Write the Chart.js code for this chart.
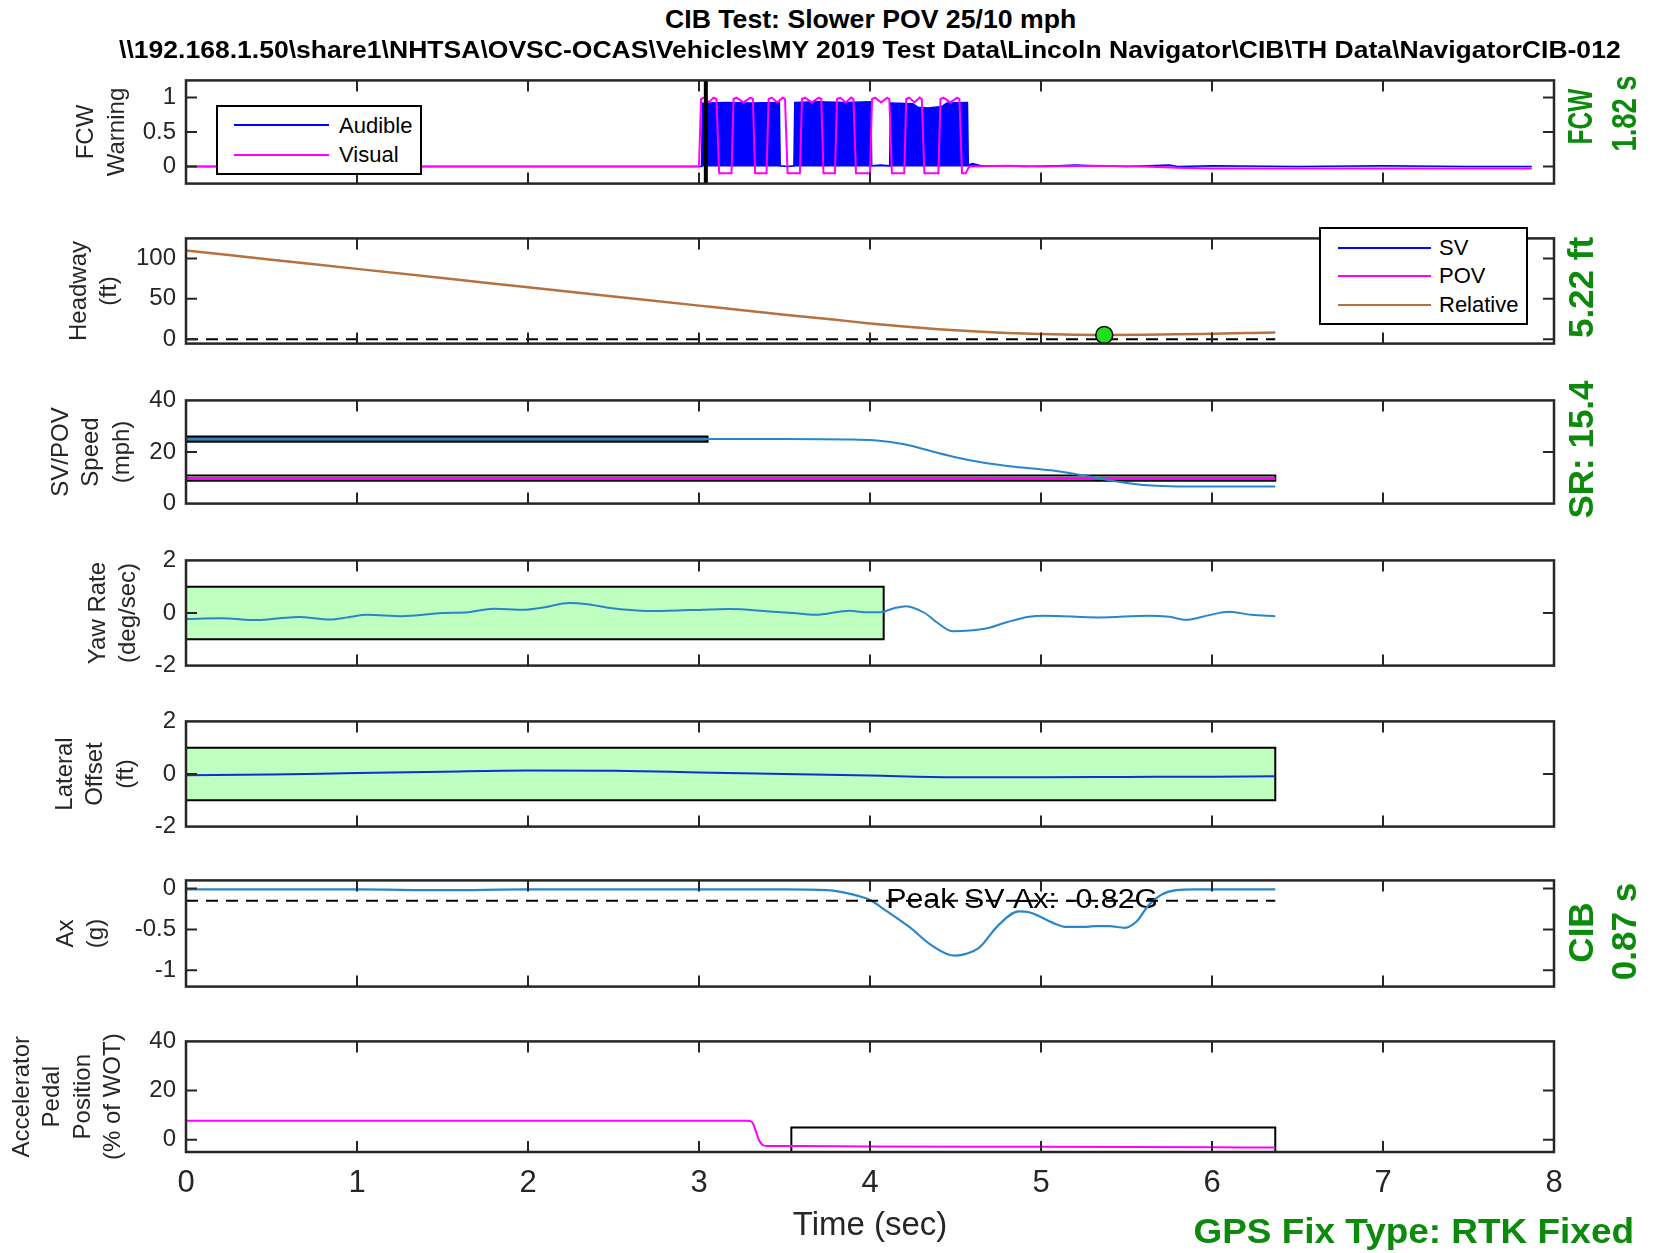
<!DOCTYPE html>
<html>
<head>
<meta charset="utf-8">
<script src="https://cdn.jsdelivr.net/npm/chart.js@4.4.1/dist/chart.umd.min.js"></script>
<style>
  body { margin: 0; width: 1654px; height: 1253px; background: #fff; position: relative; overflow: hidden;
         font-family: "Liberation Sans", Arial, sans-serif; }
  canvas { position: absolute; left: 0; }
  .txt { position: absolute; white-space: nowrap; line-height: 1; transform-origin: 50% 50%; }
  .legend { position: absolute; border: 2px solid #000; background: #fff; box-sizing: border-box; }
  .legend-line { position: absolute; height: 0; }
  .legend-text { position: absolute; font-size: 22px; line-height: 1; color: #000; white-space: nowrap; }
</style>
</head>
<body>
<script>
// -----------------------------
// DATA
// -----------------------------
const xTicks = [0, 1, 2, 3, 4, 5, 6, 7, 8];
const testEndT = 6.37;

// FCW warning
const fcwTicks = [0, 0.5, 1];
const fcwOnsetT = 3.04;
const audT = [0, 0.5, 1.0, 1.5, 2.0, 2.5, 2.9, 3.015, 3.02, 3.15, 3.3, 3.47, 3.475, 3.52, 3.555, 3.56, 3.7, 3.85, 4.005,
  4.01, 4.06, 4.115, 4.12, 4.25, 4.28, 4.34, 4.42, 4.45, 4.57, 4.575, 4.6, 4.65, 4.7, 4.9, 5.1, 5.2, 5.3, 5.5, 5.75,
  5.8, 6.0, 6.5, 7.0, 7.5, 7.87];
const audV = [0, 0, 0, 0, 0, 0, 0, 0, 0.92, 0.93, 0.92, 0.93, 0.01, 0.0, 0.01, 0.93, 0.94, 0.93, 0.94,
  0.01, 0.02, 0.01, 0.92, 0.91, 0.86, 0.85, 0.87, 0.92, 0.93, 0.02, 0.04, 0.01, 0.01, 0.0, 0.01, 0.02, 0.01, 0.0, 0.02,
  0.0, 0.01, 0.0, 0.01, 0.0, 0.0];
const visT = [0, 1, 2, 2.8, 3.0,
  3.012, 3.03, 3.058, 3.085, 3.102, 3.118, 3.19,
  3.202, 3.22, 3.26, 3.3, 3.315, 3.328, 3.395,
  3.407, 3.425, 3.458, 3.49, 3.503, 3.518, 3.59,
  3.602, 3.62, 3.66, 3.7, 3.715, 3.728, 3.795,
  3.807, 3.825, 3.858, 3.89, 3.903, 3.918, 4.0,
  4.012, 4.03, 4.065, 4.1, 4.113, 4.128, 4.2,
  4.212, 4.23, 4.26, 4.29, 4.303, 4.318, 4.4,
  4.412, 4.43, 4.47, 4.51, 4.523, 4.538, 4.56, 4.58,
  4.8, 5.0, 5.3, 5.6, 5.8, 6.0, 6.5, 7.0, 7.5, 7.87];
const visV = [0, 0, 0, 0, 0,
  0.98, 1.0, 0.93, 1.0, 0.98, -0.1, -0.1,
  0.98, 1.0, 0.93, 1.0, 0.98, -0.1, -0.1,
  0.98, 1.0, 0.93, 1.0, 0.98, -0.1, -0.1,
  0.98, 1.0, 0.93, 1.0, 0.98, -0.1, -0.1,
  0.98, 1.0, 0.93, 1.0, 0.98, -0.1, -0.1,
  0.98, 1.0, 0.93, 1.0, 0.98, -0.1, -0.1,
  0.98, 1.0, 0.93, 1.0, 0.98, -0.1, -0.1,
  0.98, 1.0, 0.93, 1.0, 0.98, -0.1, -0.1, 0,
  0.01, 0, 0.01, 0, -0.02, -0.03, -0.03, -0.03, -0.03, -0.03];

// Headway
const headwayTicks = [0, 50, 100];
const relT = [0, 0.5, 1, 1.5, 2, 2.5, 3, 3.5, 3.8, 4.0, 4.2, 4.4, 4.6, 4.8, 5.0, 5.2, 5.37, 5.6, 5.8, 6.0, 6.2, 6.37];
const relV = [110, 98.6, 87.2, 75.8, 64.4, 53, 41.6, 30.4, 24, 19.5, 15.6, 12.4, 9.8, 7.8, 6.4, 5.6, 5.22, 5.4, 6, 6.8, 7.6, 8.3];
const minGapT = 5.37;
const minGap = 5.22;

// SV / POV speed
const speedTicks = [0, 20, 40];
const svT = [0, 1, 2, 3, 3.5, 3.9, 4.04, 4.2, 4.35, 4.5, 4.65, 4.78, 4.95, 5.07, 5.2, 5.28, 5.4, 5.5, 5.6, 5.71, 5.9, 6.1, 6.37];
const svV = [25, 25, 25, 25, 25, 24.8, 24.5, 23, 20.5, 18, 16, 14.8, 13.6, 12.8, 11.5, 10.5, 9, 8, 7.2, 6.8, 6.6, 6.6, 6.6];
const povT = [0, 6.37];
const povV = [9.7, 9.7];
const svBandT = [0, 3.05];
const svBand = [24, 26];
const povBandT = [0, 6.37];
const povBand = [8.9, 10.9];

// Yaw rate
const yawTicks = [-2, 0, 2];
const yawT = [0, 0.2, 0.42, 0.55, 0.66, 0.84, 0.95, 1.06, 1.26, 1.5, 1.65, 1.8, 1.97, 2.1, 2.24, 2.35, 2.47, 2.7, 2.94,
  3.18, 3.41, 3.55, 3.68, 3.88, 3.97, 4.06, 4.14, 4.21, 4.32, 4.4, 4.48, 4.67, 4.8, 4.93, 5.02, 5.34, 5.63, 5.75, 5.85,
  5.97, 6.1, 6.23, 6.37];
const yawV = [-0.23, -0.2, -0.27, -0.2, -0.15, -0.25, -0.16, -0.07, -0.12, 0.0, 0.03, 0.16, 0.12, 0.22, 0.38, 0.33, 0.2, 0.08, 0.11,
  0.15, 0.06, 0.0, -0.07, 0.09, 0.03, 0.03, 0.18, 0.26, 0.0, -0.4, -0.69, -0.6, -0.35, -0.14, -0.1, -0.17, -0.1, -0.14, -0.26,
  -0.1, 0.05, -0.07, -0.12];
const yawBandT = [0, 4.08];
const yawBand = [-1, 1];

// Lateral offset
const latTicks = [-2, 0, 2];
const latT = [0, 0.5, 1, 1.5, 2, 2.5, 3, 3.5, 4, 4.5, 5, 5.5, 6, 6.37];
const latV = [-0.05, -0.02, 0.04, 0.09, 0.13, 0.12, 0.06, 0.0, -0.06, -0.12, -0.12, -0.11, -0.1, -0.09];
const latBandT = [0, 6.37];
const latBand = [-1, 1];

// Longitudinal accel
const axTicks = [-1, -0.5, 0];
const axT = [0, 0.5, 1, 1.5, 2, 2.5, 3, 3.5, 3.75, 3.85, 3.93, 4.0, 4.1, 4.23, 4.35, 4.45, 4.5, 4.56, 4.64, 4.75, 4.87,
  4.93, 4.99, 5.07, 5.15, 5.25, 5.31, 5.4, 5.49, 5.56, 5.63, 5.7, 5.79, 5.9, 6.01, 6.2, 6.37];
const axV = [-0.01, -0.01, -0.01, -0.02, -0.01, -0.01, -0.01, -0.01, -0.02, -0.05, -0.09, -0.14, -0.28, -0.47, -0.68, -0.8, -0.82,
  -0.8, -0.72, -0.45, -0.28, -0.29, -0.34, -0.42, -0.47, -0.47, -0.46, -0.46, -0.48, -0.4, -0.2, -0.08, -0.02, -0.01, -0.01,
  -0.01, -0.01];
const axThreshold = -0.15;
const peakLabelT = 4.89;

// Accelerator pedal
const pedalTicks = [0, 20, 40];
const pedalT = [0, 1, 2, 3, 3.28, 3.31, 3.33, 3.35, 3.38, 3.42, 3.6, 4, 5, 6, 6.37];
const pedalV = [7.7, 7.7, 7.7, 7.7, 7.7, 7.2, 4, 0, -2.4, -2.6, -2.6, -2.8, -2.9, -3.1, -3.2];
const pedalBoxT = [3.54, 6.37];
const pedalBox = [-5, 5];

// -----------------------------
// HELPERS
// -----------------------------
const INK = '#262626';
const SV_BLUE = '#2a86c8';
const BROWN = '#b5713f';
const GREEN_FILL = '#bfffbf';
const LABEL_GREEN = '#0b8a0b';
const FONT = '"Liberation Sans", Arial, sans-serif';

Chart.defaults.font.family = FONT;
Chart.defaults.color = INK;

const pts = (t, v) => t.map((x, i) => ({ x, y: v[i] }));
const hline = (t, y) => [{ x: t[0], y }, { x: t[1], y }];
const box = (t, v) => [
  { x: t[0], y: v[0] }, { x: t[1], y: v[0] }, { x: t[1], y: v[1] }, { x: t[0], y: v[1] }, { x: t[0], y: v[0] }
];

// matlab style box with inward ticks
const frame = {
  id: 'frame',
  afterDatasetsDraw(chart) {
    const { ctx, chartArea: a, scales: { x, y } } = chart;
    const TL = 11;
    ctx.save();
    ctx.strokeStyle = INK;
    ctx.lineWidth = 2;
    ctx.beginPath();
    xTicks.forEach(v => {
      if (v <= x.min || v >= x.max) return;
      const px = x.getPixelForValue(v);
      ctx.moveTo(px, a.bottom); ctx.lineTo(px, a.bottom - TL);
      ctx.moveTo(px, a.top); ctx.lineTo(px, a.top + TL);
    });
    y.ticks.forEach(t => {
      if (t.value <= y.min || t.value >= y.max) return;
      const py = y.getPixelForValue(t.value);
      ctx.moveTo(a.left, py); ctx.lineTo(a.left + TL, py);
      ctx.moveTo(a.right, py); ctx.lineTo(a.right - TL, py);
    });
    ctx.stroke();
    ctx.lineWidth = 2.5;
    ctx.strokeRect(a.left, a.top, a.right - a.left, a.bottom - a.top);
    ctx.restore();
  }
};

const peakText = 'Peak SV Ax: ' + Math.min(...axV).toFixed(2) + 'G';
const peakLabel = {
  id: 'peakLabel',
  beforeDatasetsDraw(chart) {
    const { ctx, scales: { x, y } } = chart;
    ctx.save();
    ctx.font = '27px ' + FONT;
    ctx.fillStyle = '#000';
    ctx.textAlign = 'center';
    ctx.textBaseline = 'middle';
    const w = ctx.measureText(peakText).width;
    ctx.translate(x.getPixelForValue(peakLabelT), y.getPixelForValue(axThreshold));
    ctx.scale(272 / w, 1);
    ctx.fillText(peakText, 0, 0);
    ctx.restore();
  }
};

// -----------------------------
// PANELS
// -----------------------------
const PLOT_LEFT = 186, PLOT_RIGHT = 1554, PAD = 20;
const TITLE_SIZE = 24, TITLE_LH = 1.27;

const panels = [
  {
    top: 76, bottom: 188, min: -0.25, max: 1.25, ticks: fcwTicks, title: ['FCW', 'Warning'], titleX: 86.5,
    datasets: [
      { data: [{ x: fcwOnsetT, y: -0.25 }, { x: fcwOnsetT, y: 1.25 }], borderColor: '#000', borderWidth: 4 },
      { label: 'Visual', data: pts(visT, visV), borderColor: '#ff00ff', borderWidth: 2 },
      { label: 'Audible', data: pts(audT, audV), borderColor: '#0000ff', backgroundColor: '#0000ff', fill: 'origin', borderWidth: 1.5 }
    ]
  },
  {
    top: 234, bottom: 348, min: -5.5, max: 125, ticks: headwayTicks, title: ['Headway', '(ft)'], titleX: 79,
    datasets: [
      { data: [{ x: minGapT, y: minGap }], showLine: false, pointRadius: 8.5, pointBackgroundColor: '#1ee01e',
        pointBorderColor: '#000', pointBorderWidth: 1.5 },
      { label: 'Relative', data: pts(relT, relV), borderColor: BROWN, borderWidth: 2.5, cubicInterpolationMode: 'monotone' },
      { data: hline([0, testEndT], 0), borderColor: '#000', borderDash: [12, 8], borderWidth: 2 },
      { label: 'SV', data: [], borderColor: '#0000ff' },
      { label: 'POV', data: [], borderColor: '#ff00ff' }
    ]
  },
  {
    top: 396, bottom: 508, min: 0, max: 40, ticks: speedTicks, title: ['SV/POV', 'Speed', '(mph)'], titleX: 61,
    datasets: [
      { data: pts(svT, svV), borderColor: SV_BLUE, borderWidth: 2, cubicInterpolationMode: 'monotone' },
      { data: box(svBandT, svBand), borderColor: '#000', borderWidth: 2, backgroundColor: '#2a6f8f', fill: 'shape' },
      { data: pts(povT, povV), borderColor: '#ff00ff', borderWidth: 3 },
      { data: box(povBandT, povBand), borderColor: '#000', borderWidth: 2 }
    ]
  },
  {
    top: 556, bottom: 670, min: -2, max: 2, ticks: yawTicks, title: ['Yaw Rate', '(deg/sec)'], titleX: 98,
    datasets: [
      { data: pts(yawT, yawV), borderColor: SV_BLUE, borderWidth: 2, cubicInterpolationMode: 'monotone' },
      { data: box(yawBandT, yawBand), borderColor: '#000', borderWidth: 2, backgroundColor: GREEN_FILL, fill: 'shape' }
    ]
  },
  {
    top: 717, bottom: 831, min: -2, max: 2, ticks: latTicks, title: ['Lateral', 'Offset', '(ft)'], titleX: 65,
    datasets: [
      { data: pts(latT, latV), borderColor: '#1030d0', borderWidth: 2, cubicInterpolationMode: 'monotone' },
      { data: box(latBandT, latBand), borderColor: '#000', borderWidth: 2, backgroundColor: GREEN_FILL, fill: 'shape' }
    ]
  },
  {
    top: 876, bottom: 991, min: -1.2, max: 0.1, ticks: axTicks, title: ['Ax', '(g)'], titleX: 66, plugins: [peakLabel],
    datasets: [
      { data: hline([0, testEndT], axThreshold), borderColor: '#000', borderDash: [12, 8], borderWidth: 2 },
      { data: pts(axT, axV), borderColor: SV_BLUE, borderWidth: 2.2, cubicInterpolationMode: 'monotone' }
    ]
  },
  {
    top: 1037, bottom: 1152, min: -5, max: 40, ticks: pedalTicks,
    title: ['Accelerator', 'Pedal', 'Position', '(% of WOT)'], titleX: 22,
    datasets: [
      { data: pts(pedalT, pedalV), borderColor: '#ff00ff', borderWidth: 2, cubicInterpolationMode: 'monotone' },
      { data: box(pedalBoxT, pedalBox), borderColor: '#000', borderWidth: 2 }
    ]
  }
];

panels.forEach((p, i) => {
  const isLast = i === panels.length - 1;
  const canvas = document.createElement('canvas');
  const cTop = p.top - PAD;
  const cH = isLast ? 1253 - cTop : (p.bottom - p.top) + 2 * PAD;
  canvas.width = 1654;
  canvas.height = cH;
  canvas.style.top = cTop + 'px';
  document.body.appendChild(canvas);

  const padLeft = p.titleX - TITLE_SIZE * TITLE_LH / 2;
  const xHeight = isLast ? 1253 - p.bottom : PAD;

  new Chart(canvas, {
    type: 'line',
    data: { datasets: p.datasets },
    options: {
      responsive: false,
      animation: false,
      devicePixelRatio: 1,
      layout: { padding: { left: padLeft, right: 1654 - PLOT_RIGHT, top: PAD, bottom: 0 } },
      plugins: { legend: { display: false }, tooltip: { enabled: false } },
      elements: { point: { radius: 0 }, line: { borderWidth: 2, tension: 0 } },
      scales: {
        x: {
          type: 'linear', min: 0, max: 8,
          grid: { display: false, drawTicks: false },
          border: { display: false },
          afterBuildTicks: s => { s.ticks = xTicks.map(v => ({ value: v })); },
          afterFit: s => { s.height = xHeight; },
          ticks: { display: isLast, padding: 13, font: { size: 31 }, color: INK, maxRotation: 0, autoSkip: false,
                   callback: v => String(v) },
          title: { display: isLast, text: 'Time (sec)', font: { size: 33 }, color: INK, padding: { top: 0, bottom: 7 } }
        },
        y: {
          min: p.min, max: p.max,
          grid: { display: false, drawTicks: false },
          border: { display: false },
          afterBuildTicks: s => { s.ticks = p.ticks.map(v => ({ value: v })); },
          afterFit: s => { s.width = PLOT_LEFT - padLeft; },
          ticks: { padding: 10, font: { size: 24 }, color: INK, autoSkip: false, callback: v => String(v) },
          title: { display: true, text: p.title, font: { size: TITLE_SIZE, lineHeight: TITLE_LH }, color: INK, padding: 0 }
        }
      }
    },
    plugins: [frame].concat(p.plugins || [])
  });
});

// -----------------------------
// TEXT + LEGENDS
// -----------------------------
function placeText(txt, cx, cy, size, opt) {
  const d = document.createElement('div');
  d.className = 'txt';
  d.textContent = txt;
  d.style.fontSize = size + 'px';
  d.style.fontWeight = opt.bold ? 'bold' : 'normal';
  d.style.color = opt.color || '#000';
  document.body.appendChild(d);
  const w = d.offsetWidth, h = d.offsetHeight;
  const sx = opt.width ? opt.width / w : 1;
  d.style.left = (cx - w / 2) + 'px';
  d.style.top = (cy - h / 2) + 'px';
  d.style.transform = (opt.rot ? 'rotate(-90deg) ' : '') + 'scaleX(' + sx + ')';
}

placeText('CIB Test: Slower POV 25/10 mph', 870, 18.5, 26, { bold: true, width: 411 });
placeText('\\\\192.168.1.50\\share1\\NHTSA\\OVSC-OCAS\\Vehicles\\MY 2019 Test Data\\Lincoln Navigator\\CIB\\TH Data\\NavigatorCIB-012',
  870, 50.5, 23, { bold: true, width: 1502 });
placeText('GPS Fix Type: RTK Fixed', 1413, 1230, 35, { bold: true, color: LABEL_GREEN, width: 440 });

placeText('FCW', 1580, 116, 35, { bold: true, color: LABEL_GREEN, rot: true, width: 56 });
placeText('1.82 s', 1623, 113, 35, { bold: true, color: LABEL_GREEN, rot: true, width: 76 });
placeText('5.22 ft', 1580, 287, 35, { bold: true, color: LABEL_GREEN, rot: true });
placeText('SR: 15.4', 1580, 449, 35, { bold: true, color: LABEL_GREEN, rot: true });
placeText('CIB', 1580, 932, 35, { bold: true, color: LABEL_GREEN, rot: true });
placeText('0.87 s', 1623, 931, 35, { bold: true, color: LABEL_GREEN, rot: true });

function legend(left, top, w, h, rows, lineX0, lineX1, textX, labels, colors) {
  const b = document.createElement('div');
  b.className = 'legend';
  Object.assign(b.style, { left: left + 'px', top: top + 'px', width: w + 'px', height: h + 'px' });
  document.body.appendChild(b);
  labels.forEach((lab, i) => {
    const ln = document.createElement('div');
    ln.className = 'legend-line';
    Object.assign(ln.style, { left: lineX0 + 'px', top: (rows[i] - 1.25) + 'px', width: (lineX1 - lineX0) + 'px',
      borderTop: '2.5px solid ' + colors[i] });
    document.body.appendChild(ln);
    const t = document.createElement('div');
    t.className = 'legend-text';
    t.textContent = lab;
    Object.assign(t.style, { left: textX + 'px', top: (rows[i] - 11) + 'px' });
    document.body.appendChild(t);
  });
}

legend(216, 105, 206, 70, [125.5, 155], 234, 329, 339, ['Audible', 'Visual'], ['#0000ff', '#ff00ff']);
legend(1319, 227, 209, 98, [248, 276, 305], 1338, 1431, 1439, ['SV', 'POV', 'Relative'], ['#0000ff', '#ff00ff', BROWN]);
</script>
</body>
</html>
